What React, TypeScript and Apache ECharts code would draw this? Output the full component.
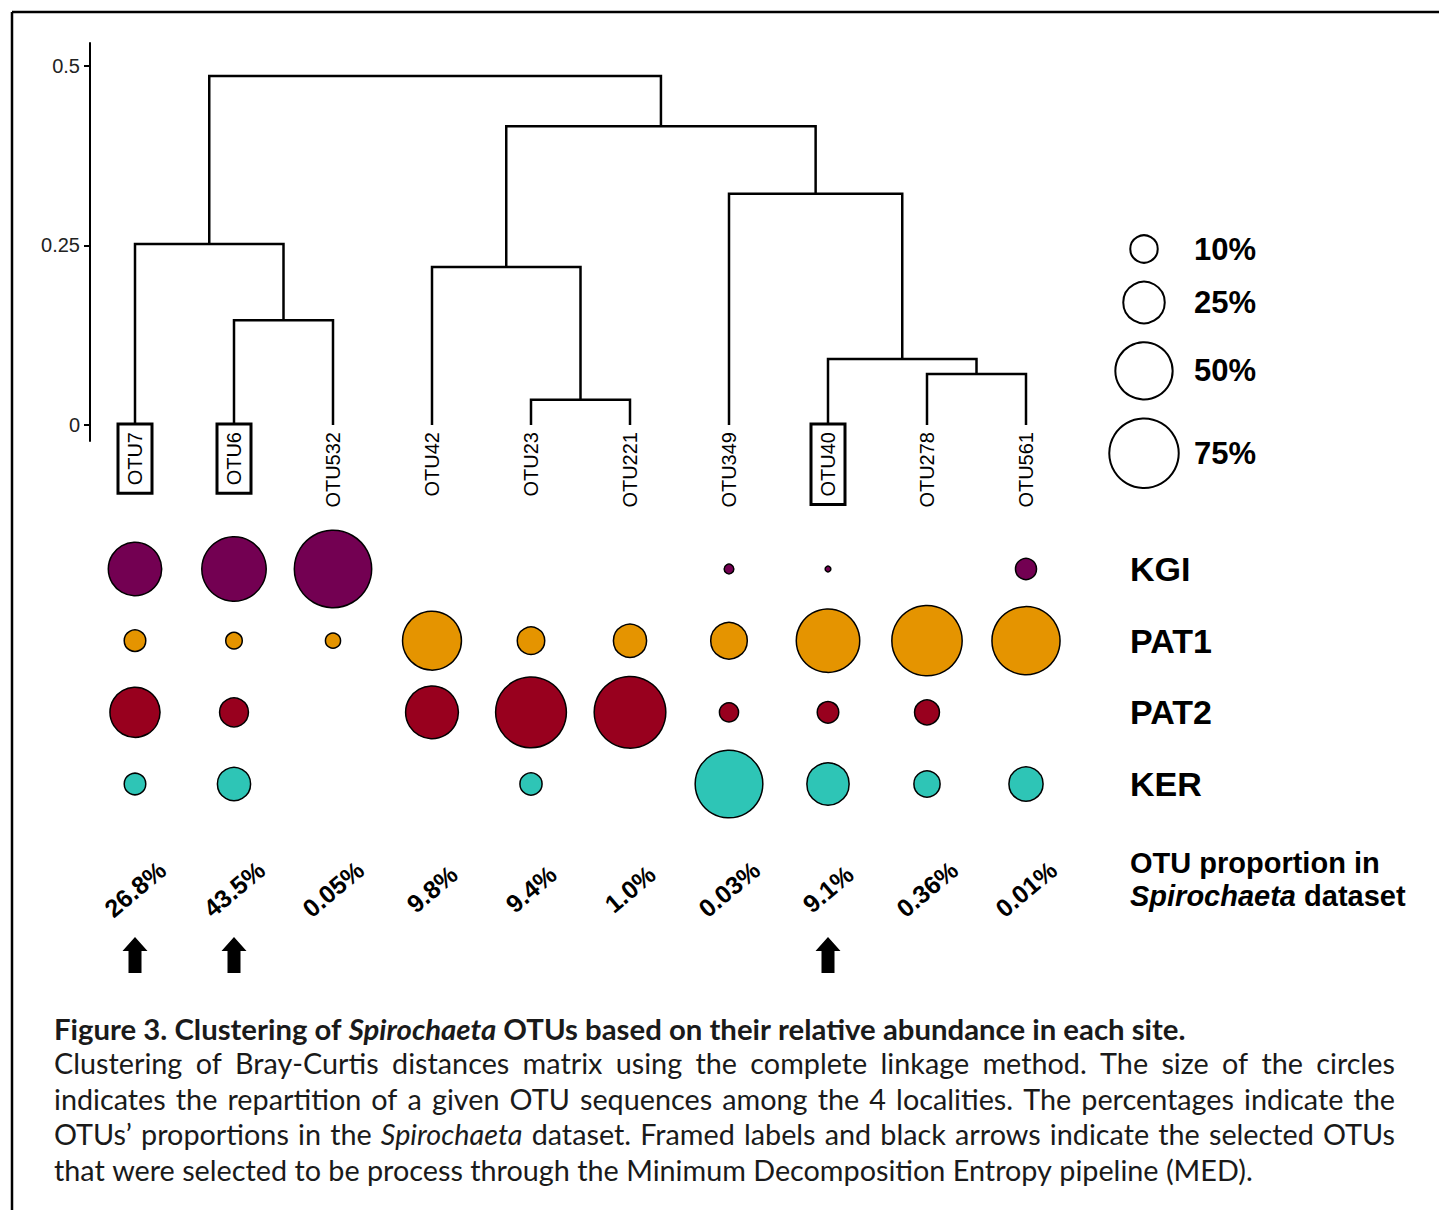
import React, { useEffect, useRef } from 'react';
import * as echarts from 'echarts';

// ---------------- data ----------------
const otuNames = ['OTU7', 'OTU6', 'OTU532', 'OTU42', 'OTU23', 'OTU221', 'OTU349', 'OTU40', 'OTU278', 'OTU561'];
const otuProportion = ['26.8%', '43.5%', '0.05%', '9.8%', '9.4%', '1.0%', '0.03%', '9.1%', '0.36%', '0.01%'];
const selectedOtus = ['OTU7', 'OTU6', 'OTU40'];
const siteNames = ['KGI', 'PAT1', 'PAT2', 'KER'];
const kgiValues = [43, 64, 94, null, null, null, 0.7, 0.1, null, 5.4];
const pat1Values = [5.7, 3.0, 2.4, 53, 10, 15.3, 19, 62, 77, 72];
const pat2Values = [37.5, 11.2, null, 42, 78, 80, 4.3, 5.7, 8, null];
const kerValues = [5.7, 15.3, null, null, 6.1, null, 71, 26, 9, 16.3];
const siteColors = ['#730052', '#E59400', '#98001E', '#2EC5B6'];
// dendrogram merges (indices < 10 are leaves, >= 10 are earlier merges)
const mergeLeft = [1, 0, 4, 3, 8, 7, 6, 13, 11];
const mergeRight = [2, 10, 5, 12, 9, 14, 15, 16, 17];
const mergeHeight = [0.146, 0.252, 0.035, 0.22, 0.071, 0.092, 0.322, 0.416, 0.486];
const yTicks = [0, 0.25, 0.5];
const legendValues = [10, 25, 50, 75];

const captionTitle = 'Figure 3. Clustering of *Spirochaeta* OTUs based on their relative abundance in each site.';
const captionLines = [
  'Clustering of Bray-Curtis distances matrix using the complete linkage method. The size of the circles',
  'indicates the repartition of a given OTU sequences among the 4 localities. The percentages indicate the',
  'OTUs\u2019 proportions in the *Spirochaeta* dataset. Framed labels and black arrows indicate the selected OTUs',
  'that were selected to be process through the Minimum Decomposition Entropy pipeline (MED).',
];

// ---------------- helpers ----------------
const FONT = 'Liberation Sans';
const CAP_FONT = 'Lato';
const sizeOf = (v: number) => 2 * (2.4 + 3.82 * Math.sqrt(v)) - 1.5;
const leafIdx = otuNames.map((_, i) => i);

let mctx: CanvasRenderingContext2D | null = null;
function measure(text: string, font: string) {
  if (!mctx) mctx = document.createElement('canvas').getContext('2d');
  mctx!.font = font;
  return mctx!.measureText(text).width;
}
function parseWords(line: string) {
  return line.split(' ').map((w) => {
    const m = w.match(/^\*(.*)\*(.*)$/);
    if (m) return [{ t: m[1], it: true }, ...(m[2] ? [{ t: m[2], it: false }] : [])];
    return [{ t: w, it: false }];
  });
}
function fontStr(size: number, bold: boolean, italic: boolean) {
  return `${italic ? 'italic ' : ''}${bold ? 'bold ' : ''}${size}px ${CAP_FONT}`;
}
function wordWidth(parts: { t: string; it: boolean }[], size: number, bold: boolean) {
  return parts.reduce((s, p) => s + measure(p.t, fontStr(size, bold, p.it)), 0);
}
function lineWidth(line: string, size: number, bold: boolean) {
  const words = parseWords(line);
  const sp = measure(' ', fontStr(size, bold, false));
  return words.reduce((s, w) => s + wordWidth(w, size, bold), 0) + sp * (words.length - 1);
}
function layoutLine(line: string, size: number, bold: boolean, x0: number, y: number, justifyTo: number | null) {
  const words = parseWords(line);
  const widths = words.map((w) => wordWidth(w, size, bold));
  const total = widths.reduce((a, b) => a + b, 0);
  let gap = measure(' ', fontStr(size, bold, false));
  if (justifyTo !== null && words.length > 1) gap = (justifyTo - x0 - total) / (words.length - 1);
  const els: any[] = [];
  let x = x0;
  words.forEach((w, i) => {
    let xx = x;
    w.forEach((p) => {
      const f = fontStr(size, bold, p.it);
      els.push({
        type: 'text', x: xx, y,
        style: { text: p.t, font: f, fill: '#1a1a1a', align: 'left', verticalAlign: 'middle', textAlign: 'left', textVerticalAlign: 'middle' },
      });
      xx += measure(p.t, f);
    });
    x += widths[i] + gap;
  });
  return els;
}

function buildOption() {
  // dendrogram geometry from merges
  const pos: number[] = [...leafIdx];
  const hgt: number[] = leafIdx.map(() => 0);
  const dendro = mergeLeft.map((l, k) => {
    const r = mergeRight[k];
    const h = mergeHeight[k];
    pos.push((pos[l] + pos[r]) / 2);
    hgt.push(h);
    return { coords: [[pos[l], hgt[l]], [pos[l], h], [pos[r], h], [pos[r], hgt[r]]] };
  });

  const X_MIN = -45 / 99;
  const X_MAX = 9 + 45 / 99;
  const xBase = {
    type: 'value', min: X_MIN, max: X_MAX,
    axisLine: { show: false, onZero: false }, axisTick: { show: false }, splitLine: { show: false },
  };

  const siteSeries = [kgiValues, pat1Values, pat2Values, kerValues].map((vals, s) => ({
    type: 'scatter', xAxisIndex: 1, yAxisIndex: 1, name: siteNames[s],
    data: vals.map((v, i) => (v == null ? null : [i, siteNames[s], v])).filter((d) => d !== null),
    symbolSize: (d: any) => sizeOf(d[2]),
    itemStyle: { color: siteColors[s], borderColor: '#000', borderWidth: 1.5, opacity: 1 },
    emphasis: { disabled: true },
  }));

  // legend keys stacked by their sizes
  const legendY: number[] = [];
  let cy = 49;
  legendValues.forEach((v, i) => {
    if (i > 0) cy += (sizeOf(legendValues[i - 1]) + sizeOf(v)) / 2 + 19;
    legendY.push(cy);
  });

  // caption
  const bodySize = (100 * 1199) / lineWidth(captionLines[3], 100, false);
  const titleSize = (100 * 1132) / lineWidth(captionTitle, 100, true);
  const captionEls: any[] = [];
  captionEls.push(...layoutLine(captionTitle, titleSize, true, 54, 1028, null));
  const lineYs = [1063, 1098.5, 1134, 1169.5];
  captionLines.forEach((ln, i) => {
    captionEls.push(...layoutLine(ln, bodySize, false, 54, lineYs[i], i < 3 ? 1395 : null));
  });

  const labelRich = {
    box: { fontSize: 20, fontFamily: FONT, color: '#000', lineHeight: 20, borderColor: '#000', borderWidth: 3, padding: [7, 8, 7, 8] },
    plain: { fontSize: 20, fontFamily: FONT, color: '#000', lineHeight: 20, borderColor: 'rgba(0,0,0,0)', borderWidth: 3, padding: [7, 8, 7, 8] },
  };

  return {
    animation: false,
    backgroundColor: '#fff',
    textStyle: { fontFamily: FONT },
    grid: [
      { left: 90, top: 43, width: 981, height: 398, outerBoundsMode: 'none' },
      { left: 90, top: 569, width: 981, height: 215, outerBoundsMode: 'none' },
      { left: 90, top: 905, width: 981, height: 100, outerBoundsMode: 'none' },
      { left: 1094, top: 200, width: 100, height: 300, outerBoundsMode: 'none' },
    ],
    xAxis: [
      {
        ...xBase, gridIndex: 0,
        axisLabel: {
          customValues: leafIdx, rotate: 90, margin: -17,
          formatter: (v: number) => {
            const n = otuNames[Math.round(v)];
            return selectedOtus.includes(n) ? `{box|${n}}` : `{plain|${n}}`;
          },
          rich: labelRich,
        },
      },
      {
        ...xBase, gridIndex: 1,
        axisLabel: {
          customValues: leafIdx, rotate: 40, margin: 105, align: 'center', verticalAlign: 'middle',
          formatter: (v: number) => otuProportion[Math.round(v)],
          fontSize: 25, fontWeight: 'bold', color: '#000', fontFamily: FONT,
        },
      },
      { ...xBase, gridIndex: 2, show: false },
      { type: 'value', gridIndex: 3, min: 0, max: 1, show: false },
    ],
    yAxis: [
      {
        type: 'value', gridIndex: 0, min: -0.0223, max: 0.532,
        axisLine: { show: true, onZero: false, lineStyle: { color: '#000', width: 2 } },
        axisTick: { show: true, length: 6, customValues: yTicks, lineStyle: { color: '#000', width: 2 } },
        axisLabel: { customValues: yTicks, margin: 10, fontSize: 20, color: '#222', formatter: (v: number) => String(v) },
        splitLine: { show: false },
      },
      {
        type: 'category', gridIndex: 1, data: siteNames, inverse: true, boundaryGap: false, position: 'right',
        axisLine: { show: false, onZero: false }, axisTick: { show: false }, splitLine: { show: false },
        axisLabel: { margin: 59, fontSize: 34, fontWeight: 'bold', color: '#000', fontFamily: FONT },
      },
      { type: 'value', gridIndex: 2, min: 0, max: 1, show: false },
      { type: 'value', gridIndex: 3, min: 0, max: 300, inverse: true, show: false },
    ],
    series: [
      {
        type: 'lines', coordinateSystem: 'cartesian2d', xAxisIndex: 0, yAxisIndex: 0, polyline: true,
        data: dendro, lineStyle: { color: '#000', width: 2.5, opacity: 1 }, silent: true,
      },
      ...siteSeries,
      {
        type: 'scatter', xAxisIndex: 2, yAxisIndex: 2,
        data: selectedOtus.map((n) => [otuNames.indexOf(n), 0.5]),
        symbol: 'path://M12.5 0 L25 14 L19 14 L19 36 L6 36 L6 14 L0 14 Z',
        symbolSize: [25, 36], itemStyle: { color: '#000', opacity: 1 }, silent: true,
      },
      {
        type: 'scatter', xAxisIndex: 3, yAxisIndex: 3,
        data: legendValues.map((v, i) => [0.5, legendY[i], v]),
        symbolSize: (d: any) => sizeOf(d[2]),
        itemStyle: { color: '#fff', borderColor: '#000', borderWidth: 2, opacity: 1 },
        label: {
          show: true, position: 'inside', align: 'left', offset: [50, 0],
          formatter: (p: any) => `${p.value[2]}%`, fontSize: 31, fontWeight: 'bold', color: '#000', fontFamily: FONT,
        },
        silent: true,
      },
    ],
    graphic: [
      { type: 'line', shape: { x1: 12, y1: 12, x2: 1439, y2: 12 }, style: { stroke: '#000', lineWidth: 2.5 } },
      { type: 'line', shape: { x1: 12, y1: 12, x2: 12, y2: 1210 }, style: { stroke: '#000', lineWidth: 2.5 } },
      {
        type: 'text', x: 1130, y: 879,
        style: {
          text: '{b|OTU proportion in}\n{i|Spirochaeta}{b| dataset}',
          verticalAlign: 'middle', textVerticalAlign: 'middle',
          rich: {
            b: { fontSize: 29, fontWeight: 'bold', fontFamily: FONT, fill: '#000', color: '#000', lineHeight: 33 },
            i: { fontSize: 29, fontWeight: 'bold', fontStyle: 'italic', fontFamily: FONT, fill: '#000', color: '#000', lineHeight: 33 },
          },
        },
      },
      ...captionEls,
    ],
  };
}

export default function App() {
  const ref = useRef<HTMLDivElement>(null);
  useEffect(() => {
    const chart = echarts.init(ref.current!, null, { renderer: 'svg' });
    chart.setOption(buildOption() as any);
    return () => chart.dispose();
  }, []);
  return (
    <div
      ref={ref}
      style={{ position: 'fixed', left: 0, top: 0, width: 1439, height: 1210, background: '#fff' }}
    />
  );
}
